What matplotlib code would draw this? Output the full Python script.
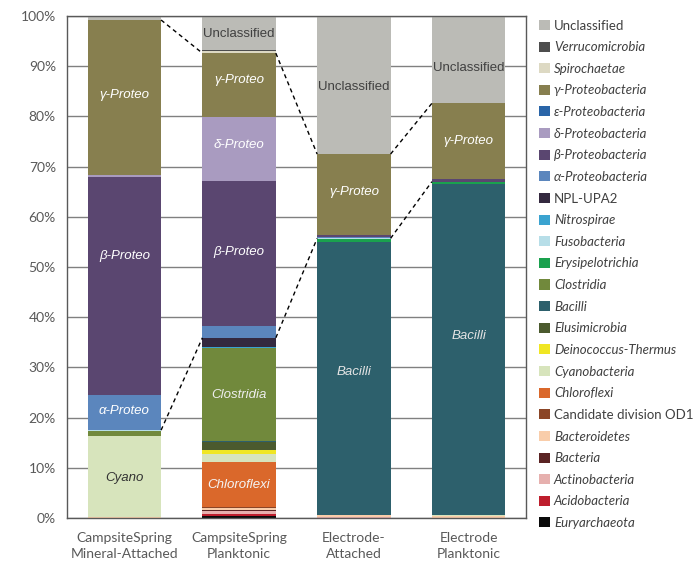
import numpy as np
import matplotlib
matplotlib.use('Agg')
import matplotlib.pyplot as plt
from matplotlib.patches import Patch

plt.rcParams['font.family'] = ['Lato', 'DejaVu Sans']

# samples (x axis)
samples = ['CampsiteSpring\nMineral-Attached', 'CampsiteSpring\nPlanktonic',
           'Electrode-\nAttached', 'Electrode\nPlanktonic']

# taxa in stacking order (bottom -> top)
taxa = ['Euryarchaeota', 'Acidobacteria', 'Actinobacteria', 'Bacteria',
        'Bacteroidetes', 'Candidate division OD1', 'Chloroflexi', 'Cyanobacteria',
        'Deinococcus-Thermus', 'Elusimicrobia', 'Bacilli', 'Clostridia',
        'Erysipelotrichia', 'Fusobacteria', 'Nitrospirae', 'NPL-UPA2',
        'α-Proteobacteria', 'β-Proteobacteria', 'δ-Proteobacteria', 'ε-Proteobacteria',
        'γ-Proteobacteria', 'Spirochaetae', 'Verrucomicrobia', 'Unclassified']

colors = ['#0a0a0a', '#be1e2d', '#e6b0ae', '#5a2323',
          '#f9cdaa', '#8b4526', '#da682b', '#d7e4bc',
          '#f0e623', '#4b5a2e', '#2d606c', '#71893c',
          '#1aa14e', '#b7dee8', '#3ba3d0', '#34293f',
          '#5b86bd', '#5a4670', '#a99bc0', '#2a65a8',
          '#877f4f', '#ddd9c3', '#4d4d4d', '#bbbbb6']

non_italic = ['Unclassified', 'NPL-UPA2', 'Candidate division OD1']

# relative abundance (%) per sample, same order as taxa
mineral_attached = [0, 0, 0, 0, 0.3, 0, 0, 16.0, 0, 0, 0, 1.0,
                    0, 0.2, 0, 0, 7.0, 43.5, 0.3, 0, 30.9, 0, 0, 0.8]
spring_planktonic = [0.4, 0.4, 0.6, 0.2, 0.3, 0.2, 9.0, 1.7, 0.8, 1.5, 0.3, 18.4,
                     0, 0, 0.3, 1.8, 2.3, 28.9, 12.8, 0, 12.7, 0.5, 0.2, 6.7]
electrode_attached = [0, 0, 0.3, 0, 0.4, 0, 0, 0, 0, 0, 54.3, 0,
                      0.5, 0.2, 0, 0, 0.2, 0.5, 0, 0, 16.1, 0, 0, 27.5]
electrode_planktonic = [0, 0, 0, 0, 0.4, 0, 0, 0.2, 0, 0, 65.9, 0,
                        0.5, 0, 0, 0, 0, 0.6, 0, 0, 15.0, 0, 0, 17.4]

data = np.array([mineral_attached, spring_planktonic,
                 electrode_attached, electrode_planktonic]).T

fig = plt.figure(figsize=(7, 5.69), dpi=100)
ax = fig.add_axes([0.0957, 0.0896, 0.6557, 0.8823])

x = np.arange(len(samples))
width = 0.64
bottom = np.zeros(len(samples))
for i, name in enumerate(taxa):
    ax.bar(x, data[i], width, bottom=bottom, color=colors[i], zorder=2,
           linewidth=0)
    bottom += data[i]

cum = np.cumsum(data, axis=0)
prot_low = cum[taxa.index('NPL-UPA2')]
prot_high = cum[taxa.index('γ-Proteobacteria')]

# dashed connectors around the Proteobacteria block
for k in range(len(samples) - 1):
    for level in (prot_low, prot_high):
        ax.plot([x[k] + width / 2, x[k + 1] - width / 2], [level[k], level[k + 1]],
                color='black', linestyle=(0, (3, 2.5)), linewidth=1, zorder=3)

# labels inside bars
labels = [
    (0, 84.3, 'γ-Proteo', 'white', 'italic'),
    (0, 52.2, 'β-Proteo', 'white', 'italic'),
    (0, 21.3, 'α-Proteo', 'white', 'italic'),
    (0, 8.0, 'Cyano', '#333333', 'italic'),
    (1, 96.4, 'Unclassified', '#404040', 'normal'),
    (1, 87.3, 'γ-Proteo', 'white', 'italic'),
    (1, 74.3, 'δ-Proteo', 'white', 'italic'),
    (1, 53.0, 'β-Proteo', 'white', 'italic'),
    (1, 24.5, 'Clostridia', '#eeeeee', 'italic'),
    (1, 6.6, 'Chloroflexi', '#f4f4f4', 'italic'),
    (2, 85.9, 'Unclassified', '#404040', 'normal'),
    (2, 65.0, 'γ-Proteo', 'white', 'italic'),
    (2, 29.0, 'Bacilli', '#e4e4e4', 'italic'),
    (3, 89.6, 'Unclassified', '#404040', 'normal'),
    (3, 75.0, 'γ-Proteo', 'white', 'italic'),
    (3, 36.3, 'Bacilli', '#e4e4e4', 'italic'),
]
for xi, yi, txt, col, sty in labels:
    ax.text(x[xi], yi, txt, ha='center', va='center', color=col, style=sty,
            fontsize=9.5, family=['Liberation Sans', 'DejaVu Sans'], zorder=4)

ax.set_xlim(-0.5, 3.5)
ax.set_ylim(0, 100)
ax.set_yticks(np.arange(0, 101, 10))
ax.set_yticklabels([f'{v}%' for v in range(0, 101, 10)])
ax.set_xticks(x)
ax.set_xticklabels(samples, linespacing=1.45)
ax.tick_params(length=0, labelsize=10, colors='#595959', pad=8)
ax.tick_params(axis='x', pad=10)
ax.grid(axis='y', color='#808080', linewidth=1, zorder=0)
ax.set_axisbelow(True)
for s in ax.spines.values():
    s.set_color('#595959')
    s.set_linewidth(1)

# legend (top -> bottom is reverse of stacking)
handles = [Patch(facecolor=colors[i], edgecolor='none') for i in range(len(taxa))][::-1]
leg = fig.legend(handles, taxa[::-1], loc='upper left', bbox_to_anchor=(0.763, 0.975),
                 frameon=False, fontsize=9.5, handlelength=0.8, handleheight=0.8,
                 handletextpad=0.3, labelspacing=0.73, borderaxespad=0)
for t in leg.get_texts():
    t.set_color('#404040')
    if t.get_text() not in non_italic:
        t.set_style('italic')

fig.savefig('out.png', dpi=100)
